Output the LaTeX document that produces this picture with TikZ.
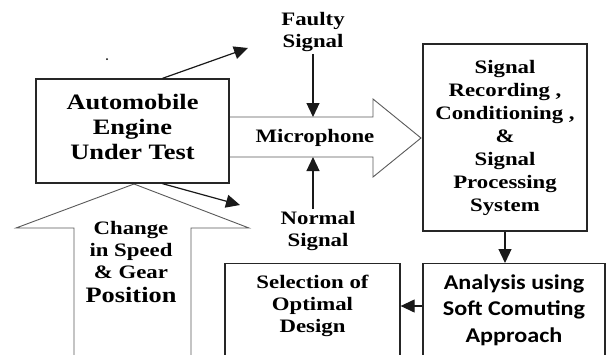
\documentclass[tikz,border=0pt]{standalone}
\usepackage{fontspec}
\setmainfont{Liberation Serif}[BoldFont={Liberation Serif Bold}]
\newfontfamily\calibfont{Carlito}
\newfontfamily\timesbold{Liberation Serif Bold}
\usepackage{tikz}
\usetikzlibrary{arrows.meta}
\usetikzlibrary{positioning}
\usepackage{xcolor}

\begin{document}
\begin{tikzpicture}[
  x=1pt, y=-1pt,
  >={Triangle[length=14pt,width=13pt]},
  every node/.style={align=center, inner sep=2pt},
  unit/.style={draw=black!85, line width=1.3pt, fill=white, inner sep=0pt},
  hollow/.style={draw=black!65, line width=0.9pt, fill=white},
  link/.style={->, line width=1.2pt, black!90},
  wide/.style={xscale=1.2, transform shape},
  lbl/.style={wide, font=\timesbold\fontsize{19}{22}\selectfont},
  biglbl/.style={wide, font=\timesbold\fontsize{22}{25}\selectfont},
  sanslbl/.style={xscale=1.15, transform shape, font=\calibfont\fontsize{21}{26.5}\selectfont\bfseries}
]
\useasboundingbox (0,0) rectangle (606,354);

% block arrows
\draw [hollow] (229,117) -- (373,117) -- (373,99) -- (421,138) -- (373,177) -- (373,157) -- (229,157);
\draw [hollow] (74,362) -- (74,228) -- (16,228) -- (134,184) -- (249,228) -- (191,228) -- (191,362);
\coordinate (mictop) at (313,117);
\coordinate (micbot) at (313,157);
\fill (107,59) circle (1pt);

\node [unit, minimum width=193, minimum height=104] (engine) at (132.5,131) {};
\node [biglbl] (enginetxt) at (132.5,127) {Automobile\\Engine\\Under Test};
\node [lbl] (mic) at (315,138) {Microphone};
\node [lbl] (faulty) at (313,32) {Faulty\\Signal};
\node [lbl] (normal) at (318,231) {Normal\\Signal};
\node [unit, minimum width=164, minimum height=187] (sig) at (505,137.5) {};
\node [lbl, font=\timesbold\fontsize{19}{23}\selectfont] (sigtxt) at (sig.center) {Signal\\Recording ,\\Conditioning ,\\\&\\Signal\\Processing\\System};
\node [lbl] (gear) at (131,262) {Change\\in Speed\\\&{} Gear\\[2pt]{\fontsize{22}{24}\selectfont Position}};

\node [unit, minimum width=182, minimum height=110, anchor=north] (ana) at (514,263) {};
\node [sanslbl] (anatxt) at ([yshift=-47pt]ana.north) {Analysis using\\Soft Comuting\\Approach};
\node [unit, minimum width=175, minimum height=110, anchor=north] (sel) at (312.5,263) {};
\node [lbl] (seltxt) at ([yshift=-43pt]sel.north) {Selection of\\Optimal\\Design};

\coordinate (fsend) at (248,48);
\coordinate (nsend) at (240,205);

\draw [link] ([xshift=30pt]engine.north) -- (fsend);
\draw [link] ([xshift=30pt]engine.south) -- (nsend);
\draw [link] (mictop |- faulty.south) -- (mictop);
\draw [link] (micbot |- normal.north) -- (micbot);
\draw [link] (sig.south) -- (sig.south |- ana.north);
\draw [link] (seltxt -| ana.west) -- (seltxt -| sel.east);
\end{tikzpicture}
\end{document}
